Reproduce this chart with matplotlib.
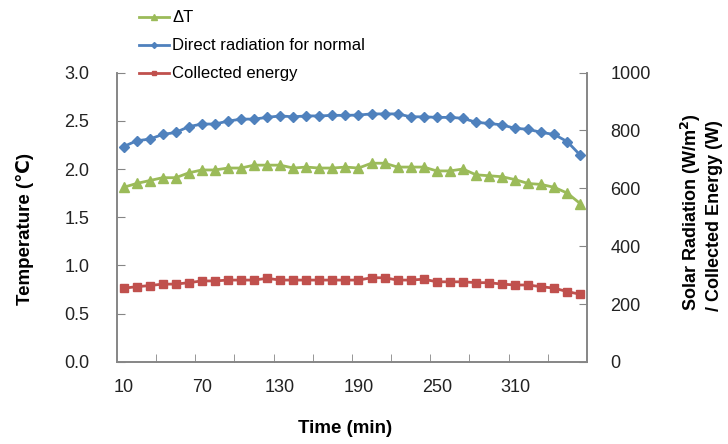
import matplotlib
matplotlib.use("Agg")
import matplotlib.pyplot as plt
import numpy as np

plt.rcParams['font.family'] = ['Liberation Sans', 'DejaVu Sans']

time_min = [10, 20, 30, 40, 50, 60, 70, 80, 90, 100, 110, 120, 130, 140, 150, 160, 170, 180,
            190, 200, 210, 220, 230, 240, 250, 260, 270, 280, 290, 300, 310, 320, 330, 340, 350, 360]
delta_t = [1.81, 1.85, 1.88, 1.91, 1.91, 1.96, 1.99, 1.99, 2.01, 2.01, 2.04, 2.04, 2.04, 2.01, 2.02, 2.01, 2.01, 2.02,
           2.01, 2.06, 2.06, 2.02, 2.02, 2.02, 1.98, 1.98, 2.00, 1.94, 1.93, 1.92, 1.89, 1.85, 1.84, 1.81, 1.75, 1.64]
direct_rad = [744, 764, 770, 786, 793, 813, 822, 822, 832, 839, 839, 845, 850, 847, 850, 850, 852, 852,
              853, 857, 857, 857, 847, 847, 845, 845, 842, 828, 824, 819, 807, 804, 793, 786, 761, 714]
collected = [255, 260, 264, 269, 269, 274, 280, 280, 283, 283, 283, 289, 283, 283, 283, 283, 283, 283,
             283, 291, 291, 283, 283, 286, 277, 277, 277, 274, 274, 269, 266, 266, 260, 255, 243, 234]
x_labels = [10, 70, 130, 190, 250, 310]
left_ticks = [0.0, 0.5, 1.0, 1.5, 2.0, 2.5, 3.0]
right_ticks = [0, 200, 400, 600, 800, 1000]

c_green = '#9BBB59'
c_blue = '#4F81BD'
c_red = '#C0504D'
gray = '#868686'

fig = plt.figure(figsize=(7.28, 4.44), dpi=100)
ax = fig.add_axes([0.1607, 0.1847, 0.6455, 0.652])
ax2 = ax.twinx()

l1, = ax.plot(time_min, delta_t, color=c_green, marker='^', ms=7, lw=2, label='ΔT', zorder=3)
l2, = ax2.plot(time_min, direct_rad, color=c_blue, marker='D', ms=5, lw=2, label='Direct radiation for normal')
l3, = ax2.plot(time_min, collected, color=c_red, marker='s', ms=6, lw=2, label='Collected energy')

ax.set_xlim(5, 365)
ax.set_ylim(0, 3.0)
ax2.set_ylim(0, 1000)

ax.set_xticks(x_labels)
ax.set_xticklabels([str(v) for v in x_labels])
ax.set_xticks(np.arange(35, 340, 30), minor=True)
ax.tick_params(axis='x', which='major', length=0, pad=12, labelsize=13, colors='#222222')
ax.tick_params(axis='x', which='minor', length=6, direction='in', color=gray)

ax.set_yticks(left_ticks)
ax.set_yticklabels([f'{v:.1f}' for v in left_ticks])
ax.tick_params(axis='y', length=6, direction='in', color=gray, pad=20, labelsize=13, labelcolor='#222222')

ax2.set_yticks(right_ticks)
ax2.set_yticklabels([str(v) for v in right_ticks])
ax2.tick_params(axis='y', length=6, direction='in', color=gray, pad=17, labelsize=13, labelcolor='#222222')

for a in (ax, ax2):
    a.spines['top'].set_visible(False)
    for s in ('left', 'right', 'bottom'):
        a.spines[s].set_color(gray)
        a.spines[s].set_linewidth(1.2)

fig.text(0.034, 0.485, 'Temperature (℃)', rotation=90, ha='center', va='center',
         fontsize=13.5, fontweight='bold')
fig.text(0.963, 0.30, 'Solar Radiation (W/m$^\\mathbf{2}$)\n/ Collected Energy (W)', rotation=90,
         ha='center', va='bottom', multialignment='left', fontsize=13, fontweight='bold', linespacing=1.2)
fig.text(0.474, 0.036, 'Time (min)', ha='center', va='center', fontsize=13.5, fontweight='bold')

fig.legend(handles=[l1, l2, l3], loc='upper left', bbox_to_anchor=(0.177, 0.999),
           frameon=False, fontsize=12, handlelength=1.8, handletextpad=0.2,
           labelspacing=0.78, markerscale=0.6, borderaxespad=0.2)

fig.savefig('out.png', dpi=100)
